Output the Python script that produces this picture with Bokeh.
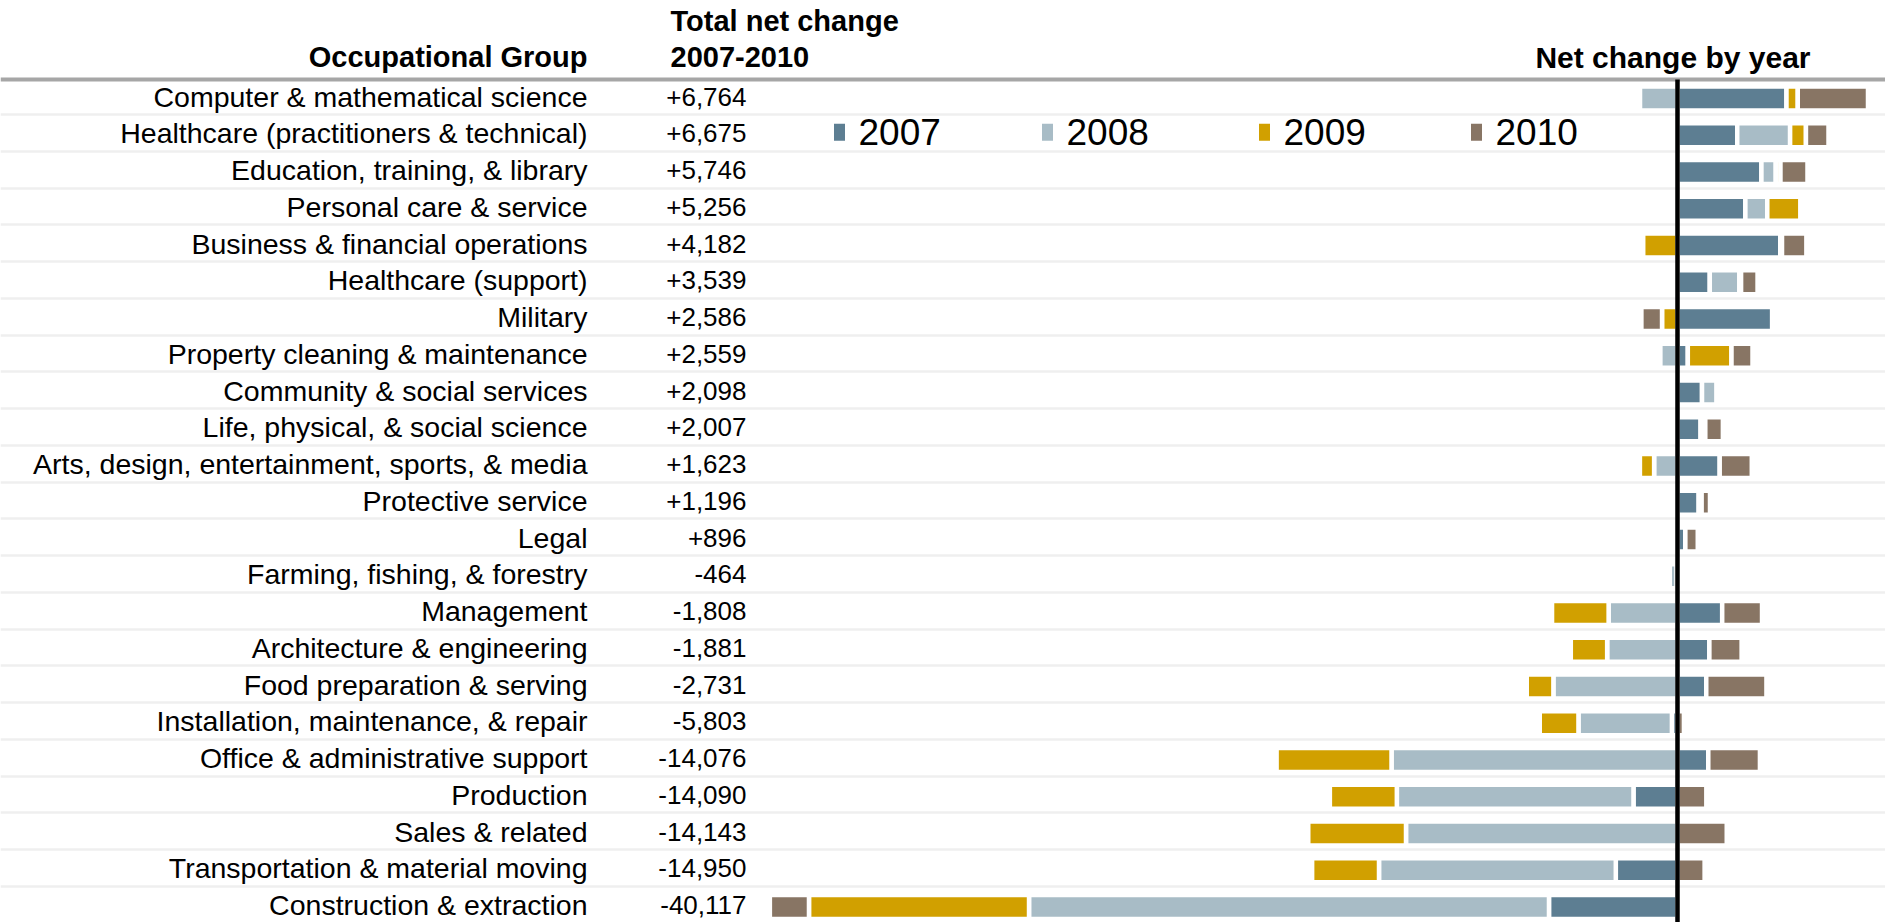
from bokeh.plotting import figure
from bokeh.models import Range1d, ColumnDataSource
from bokeh.embed import file_html
from bokeh.resources import INLINE
from bokeh.core.properties import value

groups = [
    "Computer & mathematical science",
    "Healthcare (practitioners & technical)",
    "Education, training, & library",
    "Personal care & service",
    "Business & financial operations",
    "Healthcare (support)",
    "Military",
    "Property cleaning & maintenance",
    "Community & social services",
    "Life, physical, & social science",
    "Arts, design, entertainment, sports, & media",
    "Protective service",
    "Legal",
    "Farming, fishing, & forestry",
    "Management",
    "Architecture & engineering",
    "Food preparation & serving",
    "Installation, maintenance, & repair",
    "Office & administrative support",
    "Production",
    "Sales & related",
    "Transportation & material moving",
    "Construction & extraction",
]
totals = ["+6,764", "+6,675", "+5,746", "+5,256", "+4,182", "+3,539", "+2,586",
          "+2,559", "+2,098", "+2,007", "+1,623", "+1,196", "+896", "-464",
          "-1,808", "-1,881", "-2,731", "-5,803", "-14,076", "-14,090",
          "-14,143", "-14,950", "-40,117"]
years = ["2007", "2008", "2009", "2010"]
v2007 = [4817, 2640, 3710, 3000, 4545, 1427, 4182, 456, 1084, 1021, 1866, 937, 347,
         -44, 1976, 1409, 1271, -247, 1361, -1945, 0, -2727, -5680]
v2008 = [-1656, 2338, 634, 969, 75, 1309, 0, -757, 636, 140, -1033, 130, 0,
         -300, -3044, -3109, -5485, -4130, -12640, -10460, -12000, -10466, -22982]
v2009 = [500, 700, 207, 1460, -1515, 75, -683, 1931, 0, 68, -628, 0, 0,
         -120, -2501, -1607, -1178, -1711, -5080, -2960, -4320, -2956, -9726]
v2010 = [3103, 997, 1195, -173, 1077, 728, -913, 929, 0, 778, 1418, 370, 549,
         0, 1761, 1426, 2661, 285, 2283, 1275, 2177, 1199, -1729]
colors = ["#5d7e92", "#a8bcc6", "#d1a000", "#887564"]

series = [v2007, v2008, v2009, v2010]

W, H = 1885, 922
p = figure(width=W, height=H,
           x_range=Range1d(-74123, 9194), y_range=Range1d(22.422, -2.667),
           output_backend="svg", toolbar_location=None, min_border=0,
           x_axis_type=None, y_axis_type=None, outline_line_color=None,
           background_fill_color="white", border_fill_color="white")
p.grid.visible = False
p.extra_x_ranges = {"px": Range1d(0, W)}

# row separators and header rule
p.hspan(y=[i + 0.44 for i in range(len(groups) - 1)], line_color="#efefef", line_width=2.5)
p.hspan(y=[-0.52], line_color="#a6a6a6", line_width=4)

# diverging stacked bars
pos = [0.0] * len(groups)
neg = [0.0] * len(groups)
for vals, col in zip(series, colors):
    ys, lefts, rights = [], [], []
    for i, v in enumerate(vals):
        if v == 0:
            continue
        if v > 0:
            l, r = pos[i], pos[i] + v
            pos[i] = r
        else:
            l, r = neg[i] + v, neg[i]
            neg[i] = l
        ys.append(i)
        lefts.append(l)
        rights.append(r)
    src = ColumnDataSource(dict(y=ys, left=lefts, right=rights))
    p.hbar(y="y", left="left", right="right", height=0.655, source=src,
           fill_color=col, line_color="white", line_width=4.5)

# zero axis
p.segment(x0=[0], y0=[-0.52], x1=[0], y1=[23], line_color="black", line_width=4.5)

font = value("Liberation Sans")
rows = list(range(len(groups)))
p.text(x=[587] * len(groups), y=[r - 0.05 for r in rows], text=groups, x_range_name="px",
       text_align="right", text_baseline="middle", text_font=font,
       text_font_size="28.5px", text_color="black")
p.text(x=[746] * len(groups), y=[r - 0.05 for r in rows], text=totals, x_range_name="px",
       text_align="right", text_baseline="middle", text_font=font,
       text_font_size="26px", text_color="black")

# headers
p.text(x=[587], y=[-1.12], text=["Occupational Group"], x_range_name="px",
       text_align="right", text_baseline="middle", text_font=font,
       text_font_size="29px", text_font_style="bold", text_color="black")
p.text(x=[670, 670], y=[-2.12, -1.12], text=["Total net change", "2007-2010"], x_range_name="px",
       text_align="left", text_baseline="middle", text_font=font,
       text_font_size="29px", text_font_style="bold", text_color="black")
p.text(x=[1810], y=[-1.12], text=["Net change by year"], x_range_name="px",
       text_align="right", text_baseline="middle", text_font=font,
       text_font_size="30px", text_font_style="bold", text_color="black")

# legend
leg_x = [839, 1047, 1264, 1476]
p.rect(x=leg_x, y=[0.92] * 4, width=11, height=17, width_units="screen", height_units="screen",
       fill_color=colors, line_color=None, x_range_name="px")
p.text(x=[x + 19 for x in leg_x], y=[0.92] * 4, text=years, x_range_name="px",
       text_align="left", text_baseline="middle", text_font=font,
       text_font_size="37px", text_color="black")

open("out.html", "w").write(file_html(p, INLINE))
